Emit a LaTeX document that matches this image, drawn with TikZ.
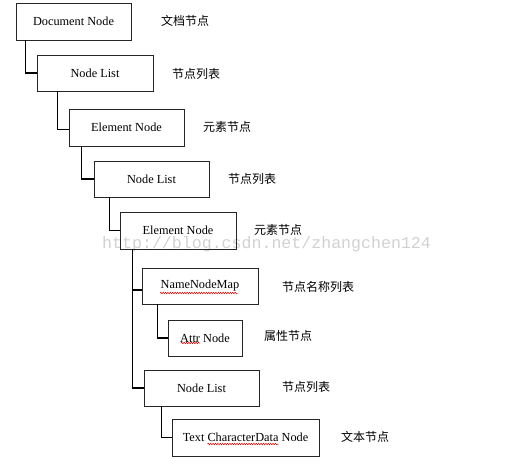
\documentclass[tikz,border=0pt]{standalone}
\usepackage{fontspec}
\setmainfont{Liberation Serif}
\newfontfamily\cjk{Noto Sans CJK SC}
\newfontfamily\wmfont{Liberation Mono}
\usetikzlibrary{decorations.pathmorphing}
\begin{document}
\begin{tikzpicture}[x=1pt,y=-1pt,
  box/.style={draw=black!85,line width=0.9pt,inner sep=0pt,minimum height=36pt,
    font=\fontsize{12.3pt}{14pt}\selectfont},
  lab/.style={anchor=west,inner sep=0pt,font=\cjk\fontsize{12pt}{14pt}\selectfont},
  conn/.style={draw=black,line width=1.8pt},
  squig/.style={draw=red!85!black,line width=0.5pt,decorate,
    decoration={snake,amplitude=0.8pt,segment length=2.4pt}}]
\useasboundingbox (0,0) rectangle (516,468);
% watermark
\node[anchor=west,inner sep=0pt,text=black!18,font=\wmfont\fontsize{16.6pt}{18pt}\selectfont]
  (wm) at (102,244) {http://blog.csdn.net/zhangchen124};
% boxes
\node[box,minimum width=115pt,minimum height=37pt] (b1) at (73.5,21.5) {Document Node};
\node[box,minimum width=116pt] (b2) at (95,73) {Node List};
\node[box,minimum width=115pt,minimum height=37pt] (b3) at (126.5,127.5) {Element Node};
\node[box,minimum width=115pt] (b4) at (151.5,179) {Node List};
\node[box,minimum width=116pt,minimum height=37pt] (b5) at (178,230.5) {Element Node};
\node[box,minimum width=116pt] (b6) at (200,286) {NameNodeMap};
\node[box,minimum width=74pt] (b7) at (205,338) {Attr Node};
\node[box,minimum width=115pt] (b8) at (201.5,388) {Node List};
\node[box,minimum width=147pt,minimum height=37pt] (b9) at (245.5,437.5) {Text CharacterData Node};
% labels
\node[lab] (l1) at (161,21) {文档节点};
\node[lab] (l2) at (172,74) {节点列表};
\node[lab] (l3) at (203,127) {元素节点};
\node[lab] (l4) at (228,179) {节点列表};
\node[lab] (l5) at (254,230) {元素节点};
\node[lab] (l6) at (282,287) {节点名称列表};
\node[lab] (l7) at (264,336) {属性节点};
\node[lab] (l8) at (282,387) {节点列表};
\node[lab] (l9) at (341,437) {文本节点};
% connectors
\draw[conn] ([xshift=10pt]b1.south west) |- (b2.west);
\draw[conn] ([xshift=21pt]b2.south west) |- ([yshift=-2pt]b3.west);
\draw[conn] ([xshift=13pt]b3.south west) |- (b4.west);
\draw[conn] ([xshift=16pt]b4.south west) |- (b5.west);
\draw[conn] ([xshift=13pt]b5.south west) |- ([yshift=-4pt]b6.west);
\draw[conn] ([xshift=13pt]b5.south west) |- (b8.west);
\draw[conn] ([xshift=16pt]b6.south west) |- (b7.west);
\draw[conn] ([xshift=18pt]b8.south west) |- (b9.west);
% spell-check underlines
\draw[squig] ([shift={(-40pt,-7pt)}]b6.center) -- ([shift={(38pt,-7pt)}]b6.center);
\draw[squig] ([shift={(-24pt,-5pt)}]b7.center) -- ([shift={(-5pt,-5pt)}]b7.center);
\draw[squig] ([shift={(-38pt,-6.5pt)}]b9.center) -- ([shift={(33pt,-6.5pt)}]b9.center);
\end{tikzpicture}
\end{document}
